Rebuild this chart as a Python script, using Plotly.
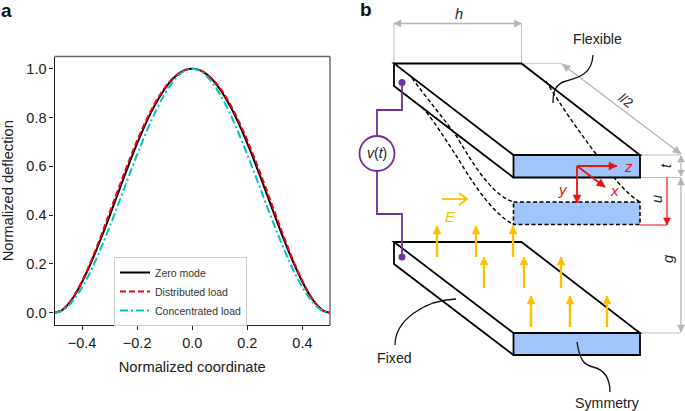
import plotly.graph_objects as go

# ---------- panel a data ----------
coord = [-0.5,-0.475,-0.45,-0.425,-0.4,-0.375,-0.35,-0.325,-0.3,-0.275,-0.25,-0.225,-0.2,-0.175,-0.15,-0.125,-0.1,-0.075,-0.05,-0.025,
         0,0.025,0.05,0.075,0.1,0.125,0.15,0.175,0.2,0.225,0.25,0.275,0.3,0.325,0.35,0.375,0.4,0.425,0.45,0.475,0.5]
zero_mode = [0,0.009,0.035,0.075,0.126,0.186,0.252,0.322,0.397,0.473,0.549,0.623,0.694,0.76,0.82,0.872,0.917,0.953,0.979,0.995,
             1,0.995,0.979,0.953,0.917,0.872,0.82,0.76,0.694,0.623,0.549,0.473,0.397,0.322,0.252,0.186,0.126,0.075,0.035,0.009,0]
distributed = [0,0.0095,0.036,0.077,0.13,0.191,0.26,0.334,0.41,0.487,0.5625,0.636,0.706,0.77,0.828,0.879,0.922,0.956,0.98,0.995,
               1,0.995,0.98,0.956,0.922,0.879,0.828,0.77,0.706,0.636,0.5625,0.487,0.41,0.334,0.26,0.191,0.13,0.077,0.036,0.0095,0]
concentrated = [0,0.007,0.028,0.061,0.104,0.156,0.216,0.282,0.352,0.425,0.5,0.575,0.648,0.718,0.784,0.844,0.896,0.939,0.972,0.993,
                1,0.993,0.972,0.939,0.896,0.844,0.784,0.718,0.648,0.575,0.5,0.425,0.352,0.282,0.216,0.156,0.104,0.061,0.028,0.007,0]
x_ticks = [-0.4,-0.2,0.0,0.2,0.4]
x_labels = ["\u22120.4","\u22120.2","0.0","0.2","0.4"]
y_ticks = [0.0,0.2,0.4,0.6,0.8,1.0]
y_labels = ["0.0","0.2","0.4","0.6","0.8","1.0"]

FONT = "Liberation Sans"
W, H = 685, 411
DARK = "#222222"
GRAY = "#bdbdbd"
BLUE = "#9fc5fb"
PURPLE = "#7030a0"
ORANGE = "#ffc000"
RED = "#f01010"

fig = go.Figure()
fig.add_trace(go.Scatter(x=coord, y=zero_mode, name="Zero mode", mode="lines",
                         line=dict(color="black", width=2, shape="spline")))
fig.add_trace(go.Scatter(x=coord, y=distributed, name="Distributed load", mode="lines",
                         line=dict(color="#f5000f", width=2, dash="6px,3px", shape="spline")))
fig.add_trace(go.Scatter(x=coord, y=concentrated, name="Concentrated load", mode="lines",
                         line=dict(color="#00c4c4", width=2, dash="8px,3px,2px,3px", shape="spline")))

shapes = []
annots = []

def line(x0, y0, x1, y1, color="black", width=1.8, dash=None, layer="above"):
    shapes.append(dict(type="line", xref="x2", yref="y2", x0=x0, y0=y0, x1=x1, y1=y1, layer=layer,
                       line=dict(color=color, width=width, dash=dash or "solid")))

def path(d, color="black", width=1.8, dash=None, fill=None):
    s = dict(type="path", xref="x2", yref="y2", path=d, line=dict(color=color, width=width, dash=dash or "solid"))
    if fill:
        s["fillcolor"] = fill
    shapes.append(s)

def head(x0, y0, x1, y1, color, length=8, half=4):
    dx, dy = x1 - x0, y1 - y0
    n = (dx * dx + dy * dy) ** 0.5
    ux, uy = dx / n, dy / n
    bx, by = x1 - ux * length, y1 - uy * length
    d = f"M{x1},{y1} L{bx - uy * half},{by + ux * half} L{bx + uy * half},{by - ux * half} Z"
    shapes.append(dict(type="path", xref="x2", yref="y2", path=d, fillcolor=color, line=dict(color=color, width=0.5)))

def arrow(x0, y0, x1, y1, color, width=2, length=8, half=4, both=False):
    line(x0, y0, x1, y1, color=color, width=width)
    head(x0, y0, x1, y1, color, length, half)
    if both:
        head(x1, y1, x0, y0, color, length, half)

def text(x, y, s, size=12.5, color=DARK, angle=0):
    annots.append(dict(xref="x2", yref="y2", x=x, y=y, text=s, showarrow=False, textangle=angle,
                       font=dict(family=FONT, size=size, color=color), xanchor="center", yanchor="middle"))

# panel a top/right frame
line(54.5, 56.5, 330, 56.5, color="#666666", width=1.4)
line(330, 56.5, 330, 325, color="#666666", width=1.4)

# gray dimensions
line(394, 23, 394, 63, GRAY, 1)
line(521.5, 23, 521.5, 63, GRAY, 1)
arrow(394, 23.5, 521.5, 23.5, "#b5b5b5", 1.3, 7, 3.5, both=True)
line(521.5, 63.5, 562, 63.5, "#d0d0d0", 1)
arrow(562, 64, 681, 154, "#b5b5b5", 1.3, 8, 3.5, both=True)
line(640, 155, 681, 155, GRAY, 1)
line(640, 177.5, 681, 177.5, GRAY, 1)
line(640, 333, 681, 333, GRAY, 1)
arrow(681, 156, 681, 176, "#b5b5b5", 1.3, 6, 3.5, both=True)
arrow(681, 178, 681, 332, "#b5b5b5", 1.3, 7, 3.5, both=True)

# bottom plate
path("M513.5,333 L640,333 L640,355 L513.5,355 Z", width=1.8, fill=BLUE)
path("M394,242 L521.5,242 L640,333 L513.5,333 Z M394,242 L394,264 L513.5,355", width=1.8)

# dashed plate and dashed curves
path("M513.5,202 L640,202 L640,224.5 L513.5,224.5 Z", width=1.6, dash="4px,2.5px", fill=BLUE)
path("M412,78 C428,100 445,120 457,137 C468,155 490,195 513.5,202", width=1.4, dash="4px,2.5px")
path("M422,107 C435,122 447,142 457,157 C470,178 490,212 513.5,224.5", width=1.4, dash="4px,2.5px")
path("M546,81 C560,105 585,140 603,163 C615,180 628,195 640,202", width=1.4, dash="4px,2.5px")

# top plate
path("M513.5,155 L640,155 L640,177.5 L513.5,177.5 Z", width=1.8, fill=BLUE)
path("M394,63.5 L521.5,63.5 L640,155 L513.5,155 Z M394,63.5 L394,86 L513.5,177.5", width=1.8)

# leaders
path("M593,55 C592,75 577,78 566,81 C555,84 553,92 553,103", width=1.3, color="#111111")
path("M456,299 C425,300 395,320 395,345", width=1.3, color="#111111")
path("M577,342 C580,362 585,365 593,367 C605,370 610,378 610,392", width=1.3, color="#111111")

# purple circuit
path("M402,82 L402,110 L377,110 L377,136", PURPLE, 1.8)
path("M377,171 L377,214 L402,214 L402,257", PURPLE, 1.8)
shapes.append(dict(type="circle", xref="x2", yref="y2", x0=359.5, x1=394.5, y0=136, y1=171,
                   fillcolor="white", line=dict(color=PURPLE, width=1.8)))
for cy in (82.5, 257):
    shapes.append(dict(type="circle", xref="x2", yref="y2", x0=398.5, x1=405.5, y0=cy - 3.5, y1=cy + 3.5,
                       fillcolor=PURPLE, line=dict(color=PURPLE, width=0)))

# orange field arrows
line(442, 199, 466, 199, ORANGE, 1.8)
path("M459,193 L467,199 L459,205", ORANGE, 1.8)
for ax, y0, y1 in [(437, 257, 226), (476, 257, 226), (513, 257, 226),
                   (484, 288, 257), (524, 288, 257), (561, 288, 257),
                   (531, 327, 296), (570, 327, 296), (607, 327, 296)]:
    arrow(ax, y0, ax, y1, ORANGE, 2.4, 8, 4)

# red axes
arrow(577, 166, 617, 166, RED, 1.8, 8, 4)
arrow(577, 166, 605, 187, RED, 1.8, 8, 4)
arrow(577, 166, 577, 203, RED, 1.8, 8, 4)
line(640, 225, 667, 225, RED, 1)
arrow(667, 177.5, 667, 225, RED, 1.2, 7, 3.5)

# texts
text(6, 10, "<b>a</b>", 19, "#111111")
text(366, 9, "<b>b</b>", 19, "#111111")
text(459, 14, "<i>h</i>", 14.5)
text(597, 39, "Flexible", 14.2)
text(626, 100, "<i>l</i>/2", 13.5, angle=38)
text(666, 166, "<i>t</i>", 14.5, angle=-90)
text(657, 199, "<i>u</i>", 14.5, angle=-90)
text(668, 259, "<i>g</i>", 14.5, angle=-90)
text(377, 153, "<i>v</i>(<i>t</i>)", 14)
text(450, 216, "<i>E</i>", 15, ORANGE)
text(628, 166, "<i>z</i>", 15, RED)
text(614, 190, "<i>x</i>", 15, RED)
text(563, 189, "<i>y</i>", 15, RED)
text(394, 358, "Fixed", 14.2)
text(607, 403, "Symmetry", 14.2)

fig.update_layout(
    width=W, height=H, margin=dict(l=0, r=0, t=0, b=0), autosize=False,
    paper_bgcolor="white", plot_bgcolor="rgba(0,0,0,0)",
    font=dict(family=FONT, size=14.5, color=DARK),
    xaxis=dict(domain=[54.5 / W, 330 / W], range=[-0.5, 0.5], tickvals=x_ticks, ticktext=x_labels,
               ticks="outside", ticklen=4, tickwidth=1, tickcolor=DARK, showgrid=False, zeroline=False,
               showline=True, linecolor=DARK, linewidth=1.2, anchor="y",
               title=dict(text="Normalized coordinate", font=dict(size=14.7), standoff=12)),
    yaxis=dict(domain=[(H - 325) / H, (H - 56.5) / H], range=[-0.05, 1.05], tickvals=y_ticks, ticktext=y_labels,
               ticks="outside", ticklen=4, tickwidth=1, tickcolor=DARK, showgrid=False, zeroline=False,
               showline=True, linecolor=DARK, linewidth=1.2, anchor="x",
               title=dict(text="Normalized deflection", font=dict(size=14.7), standoff=10)),
    xaxis2=dict(domain=[0, 1], range=[0, W], visible=False, anchor="y2", fixedrange=True),
    yaxis2=dict(domain=[0, 1], range=[H, 0], visible=False, anchor="x2", fixedrange=True),
    legend=dict(x=114 / W, y=1 - 257 / H, xanchor="left", yanchor="top", bgcolor="white",
                bordercolor="#cccccc", borderwidth=1, font=dict(size=10.5, color="#333333"), itemwidth=30,
                entrywidth=158, entrywidthmode="pixels"),
    shapes=shapes, annotations=annots,
)
fig.write_html("out.html", post_script="document.body.style.margin='0';",
               config=dict(displayModeBar=False))
